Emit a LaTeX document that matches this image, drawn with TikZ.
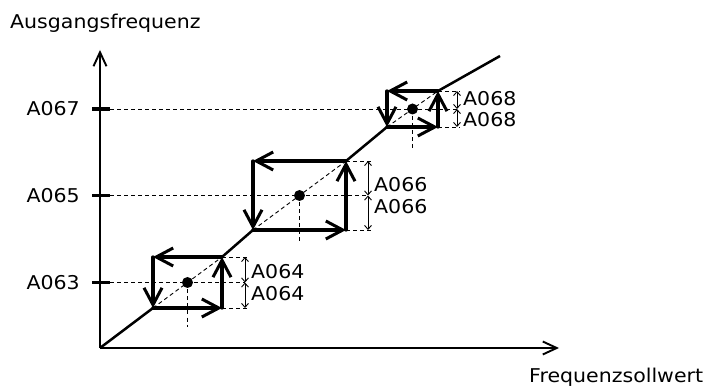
\documentclass[tikz,border=0pt]{standalone}
\usepackage{fontspec}
\setmainfont{DejaVu Sans}[FakeStretch=1.08]
\usetikzlibrary{arrows.meta}
\tikzset{
  axisln/.style={line width=1.9pt,-{Straight Barb[length=14pt,width=13pt,line width=1.9pt]}},
  mainln/.style={line width=2.5pt},
  tickln/.style={line width=3.2pt},
  boxarrow/.style={line width=3.3pt,line cap=round,-{Straight Barb[length=17pt,width=18pt,line width=3pt]}},
  dashln/.style={line width=0.9pt,dash pattern=on 4pt off 3pt},
  dimarrow/.style={line width=0.9pt,{Straight Barb[length=4pt,width=7pt,line width=0.9pt]}-{Straight Barb[length=4pt,width=7pt,line width=0.9pt]}},
  lbl/.style={inner sep=0pt,font=\fontsize{19}{22}\selectfont}
}
\newcommand\hyst[9]{%
  % #1 prefix, #2 l, #3 t, #4 r, #5 b, #6 dim x, #7 vdash end, #8 label, #9 tick label
  \coordinate (#1tl) at (#2,#3);
  \coordinate (#1tr) at (#4,#3);
  \coordinate (#1bl) at (#2,#5);
  \coordinate (#1br) at (#4,#5);
  \coordinate (#1c) at ({(#2+#4)/2},{(#3+#5)/2});
  \coordinate (#1ta) at (92,{(#3+#5)/2});
  \coordinate (#1tb) at (110,{(#3+#5)/2});
  \coordinate (#1dt) at (#6,#3);
  \coordinate (#1dm) at (#6,{(#3+#5)/2});
  \coordinate (#1db) at (#6,#5);
  \coordinate (#1et) at ({#6+3},#3);
  \coordinate (#1eb) at ({#6+3},#5);
  \coordinate (#1vd) at ({(#2+#4)/2},#7);
  % dashed helpers
  \draw[dashln] (#1tb) -- (#1dm);
  \draw[dashln] (#1tr) -- (#1et);
  \draw[dashln] (#1br) -- (#1eb);
  \draw[dashln] (#1c) -- (#1vd);
  \draw[dashln] (#1bl) -- (#1tr);
  % tick
  \draw[tickln] (#1ta) -- (#1tb);
  \node[lbl,anchor=east] (#1tick) at (80,{(#3+#5)/2}) {#9};
  % dimension arrows
  \draw[dimarrow] (#1dt) -- (#1dm);
  \draw[dimarrow] (#1dm) -- (#1db);
  \node[lbl,anchor=west] (#1up) at ({#6+6},{(#3+#5)/2-10.5}) {#8};
  \node[lbl,anchor=west] (#1dn) at ({#6+6},{(#3+#5)/2+11}) {#8};
  % box
  \draw[boxarrow] (#1tr) -- (#1tl);
  \draw[boxarrow] (#1tl) -- (#1bl);
  \draw[boxarrow] (#1bl) -- (#1br);
  \draw[boxarrow] (#1br) -- (#1tr);
  \fill (#1c) circle (5.5pt);
}
\begin{document}
\begin{tikzpicture}[x=1pt,y=-1pt]
\useasboundingbox (0,0) rectangle (712,387);
\coordinate (O) at (100,348);
\coordinate (ytip) at (100,50);
\coordinate (xtip) at (559,348);
\coordinate (lineend) at (500,56);
\hyst{a}{153}{257}{222}{308}{245}{327}{A064}{A063}
\hyst{b}{253}{161}{346}{230}{368}{243}{A066}{A065}
\hyst{c}{387}{91}{438}{127}{457}{150}{A068}{A067}
\draw[axisln] (O) -- (ytip);
\draw[axisln] (O) -- (xtip);
\draw[mainln] (O) -- (abl);
\draw[mainln] (atr) -- (bbl);
\draw[mainln] (btr) -- (cbl);
\draw[mainln] (ctr) -- (lineend);
\node[lbl,anchor=base west] (ylab) at (10,29) {Ausgangsfrequenz};
\node[lbl,anchor=base west] (xlab) at (529,382) {Frequenzsollwert};
\end{tikzpicture}
\end{document}
